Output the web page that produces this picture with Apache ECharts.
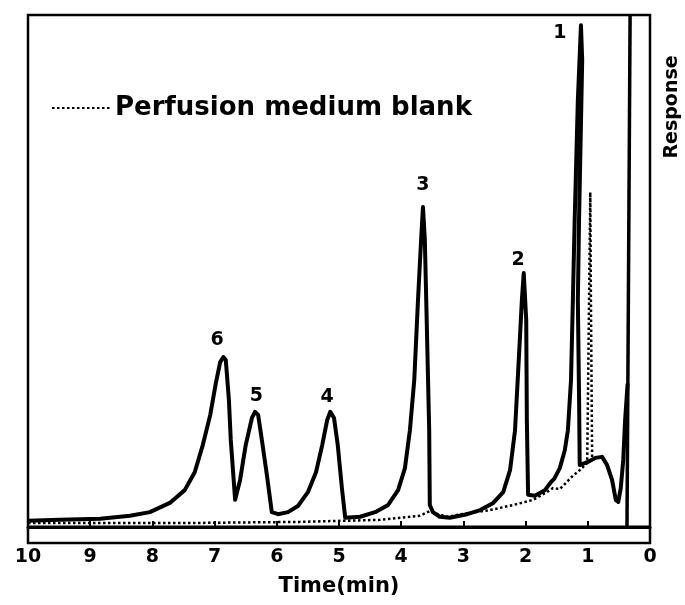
<!DOCTYPE html>
<html>
<head>
<meta charset="utf-8">
<script src="https://cdn.jsdelivr.net/npm/echarts@6/dist/echarts.min.js"></script>
<style>
  html, body { margin: 0; padding: 0; background: #fff; }
  #chart { width: 685px; height: 605px; }
</style>
</head>
<body>
<div id="chart"></div>
<script>
// time axis runs from 10 min (left) down to 0 (right)
var timeTicks = [0, 1, 2, 3, 4, 5, 6, 7, 8, 9, 10];

// sample trace (solid), [time, response]
var sampleTrace = [
  [10.0, 1.2], [9.49, 1.4], [8.84, 1.6], [8.36, 2.2], [8.04, 2.9], [7.72, 4.7],
  [7.48, 7.2], [7.32, 10.7], [7.19, 16.0], [7.07, 21.9], [6.98, 28.1], [6.91, 32.2],
  [6.86, 33.2], [6.82, 32.6], [6.77, 24.8], [6.74, 17.0], [6.67, 5.3],
  [6.59, 9.2], [6.50, 16.0], [6.40, 21.3], [6.35, 22.5], [6.30, 21.9], [6.24, 17.0],
  [6.16, 10.2], [6.08, 2.9], [5.98, 2.5], [5.82, 2.9], [5.66, 4.1], [5.50, 6.8],
  [5.37, 10.7], [5.27, 16.0], [5.19, 20.9], [5.14, 22.5], [5.08, 21.3], [5.02, 16.0],
  [4.95, 7.2], [4.90, 1.8], [4.66, 2.0], [4.42, 2.9], [4.21, 4.3], [4.05, 7.2],
  [3.94, 11.5], [3.86, 18.9], [3.79, 28.7], [3.73, 44.3], [3.68, 56.1], [3.65, 62.5],
  [3.62, 56.1], [3.59, 40.4], [3.55, 18.9], [3.54, 4.3], [3.49, 2.9], [3.38, 2.0],
  [3.22, 1.8], [2.94, 2.5], [2.73, 3.3], [2.52, 4.7], [2.36, 6.8], [2.25, 11.1],
  [2.17, 18.9], [2.11, 32.6], [2.06, 44.3], [2.03, 49.6], [1.99, 40.4], [1.98, 20.9],
  [1.96, 6.3], [1.85, 6.1], [1.69, 7.2], [1.59, 8.8], [1.54, 9.4], [1.45, 11.5],
  [1.37, 15.0], [1.32, 18.9], [1.27, 28.7], [1.24, 44.3], [1.21, 60.5], [1.16, 83.4],
  [1.11, 98.0], [1.09, 91.2], [1.14, 60.5], [1.16, 44.3], [1.14, 24.8], [1.13, 12.1],
  [1.00, 12.7], [0.88, 13.5], [0.77, 13.7], [0.69, 12.1], [0.61, 9.2], [0.55, 5.3],
  [0.51, 4.9], [0.47, 7.6], [0.43, 13.1], [0.40, 20.9], [0.36, 28.0]
];

// perfusion medium blank (dotted)
var blankTrace = [
  [10.0, 0.8], [7.23, 0.8], [5.63, 1.0], [4.34, 1.4], [3.70, 2.2], [3.54, 3.1],
  [3.41, 2.5], [3.26, 2.0], [2.94, 2.7], [2.57, 3.3], [2.20, 4.3], [1.88, 5.3],
  [1.66, 6.8], [1.56, 7.6], [1.45, 7.4], [1.24, 10.0], [1.13, 11.1], [1.01, 12.5],
  [0.98, 44.3], [0.96, 65.4], [0.95, 44.3], [0.93, 13.1]
];

// solvent front and zero line
var solventFront = [[0.37, 0], [0.32, 100]];
var zeroLine = [[10, 0], [0, 0]];

// peak numbers
var peakNames = ['1', '2', '3', '4', '5', '6'];
var peakLabelPos = [[1.45, 96.5], [2.12, 52.1], [3.65, 66.8], [5.19, 25.4], [6.33, 25.6], [6.96, 36.5]];

var font = '"DejaVu Sans", Arial, sans-serif';

var chart = echarts.init(document.getElementById('chart'));
chart.setOption({
  animation: false,
  backgroundColor: '#fff',
  grid: {
    left: 28, right: 35, top: 15, bottom: 62,
    show: true, borderColor: '#000', borderWidth: 2.5
  },
  legend: {
    left: 46, top: 90,
    data: ['Perfusion medium blank'],
    itemWidth: 58, itemHeight: 6,
    itemStyle: { opacity: 0 },
    textStyle: { color: '#000', fontFamily: font, fontWeight: 'bold', fontSize: 26 }
  },
  xAxis: {
    type: 'value',
    min: 0, max: 10, interval: 1,
    inverse: true,
    name: 'Time(min)',
    nameLocation: 'middle',
    nameGap: 33,
    nameTextStyle: { color: '#000', fontFamily: font, fontWeight: 'bold', fontSize: 21 },
    axisLine: { show: true, lineStyle: { color: '#000', width: 3 } },
    axisTick: { inside: true, length: 6, lineStyle: { color: '#000', width: 2 } },
    axisLabel: {
      color: '#000', fontFamily: font, fontWeight: 'bold', fontSize: 19, margin: 5,
      formatter: function (v) { return timeTicks.indexOf(v) >= 0 ? String(v) : ''; }
    },
    splitLine: { show: false }
  },
  yAxis: {
    type: 'value',
    min: -3.125, max: 100,
    axisLine: { show: false },
    axisTick: { show: false },
    axisLabel: { show: false },
    splitLine: { show: false }
  },
  graphic: [{
    type: 'text',
    x: 672, y: 107,
    rotation: Math.PI / 2,
    style: {
      text: 'Response',
      fill: '#000',
      font: 'bold 19px ' + font,
      textAlign: 'center',
      textVerticalAlign: 'middle'
    }
  }],
  series: [
    {
      type: 'line', data: zeroLine, symbol: 'none', silent: true,
      lineStyle: { color: '#000', width: 3 }
    },
    {
      type: 'line', data: solventFront, symbol: 'none', silent: true,
      lineStyle: { color: '#000', width: 3.5 }
    },
    {
      name: 'Sample', type: 'line', data: sampleTrace, symbol: 'none',
      lineStyle: { color: '#000', width: 4, join: 'round' }
    },
    {
      name: 'Perfusion medium blank', type: 'line', data: blankTrace, symbol: 'none',
      lineStyle: { color: '#000', width: 2.5, type: [2.5, 2.5] },
      itemStyle: { color: '#000' }
    },
    {
      type: 'scatter', symbolSize: 0, silent: true,
      itemStyle: { color: '#000', opacity: 1 },
      data: peakNames.map(function (n, i) { return { name: n, value: peakLabelPos[i] }; }),
      label: {
        show: true, position: 'inside', formatter: '{b}', opacity: 1,
        color: '#000', fontFamily: font, fontWeight: 'bold', fontSize: 19
      }
    }
  ]
});
</script>
</body>
</html>
